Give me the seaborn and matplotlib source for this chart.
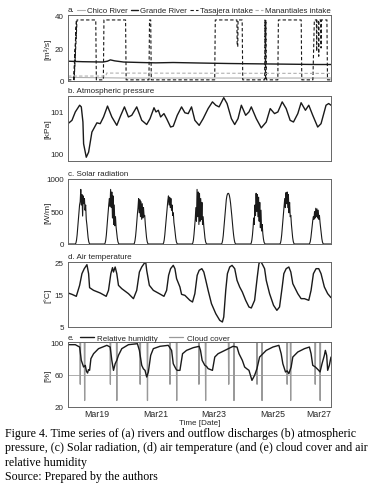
import numpy as np
import pandas as pd
import matplotlib
matplotlib.use("Agg")
import matplotlib.pyplot as plt
import seaborn as sns

# ---------------- data (time in days since Mar18 00:00) ----------------
# a. discharges [m3/s]
grande_t = [0, 0.5, 1.2, 1.35, 1.45, 1.6, 1.9, 2.5, 3.0, 3.6, 4.5, 5.5, 6.5, 7.5, 8.5, 9.0]
grande_q = [12.0, 11.7, 11.5, 12.0, 12.8, 12.2, 11.5, 11.2, 11.0, 11.2, 10.9, 10.6, 10.4, 10.2, 10.0, 10.0]
chico_t = [0, 1.0, 2.0, 9.0]
chico_q = [2.2, 2.0, 1.8, 1.8]
man_t = [0, 1.3, 1.32, 9.0]
man_q = [3.0, 3.0, 4.8, 4.6]
tas_t = [0.00, 0.19, 0.29, 0.21, 0.31, 0.95, 0.97, 1.21, 1.23, 1.97, 1.99, 2.77, 2.79, 2.83, 2.85,
         5.02, 5.04, 5.78, 5.79, 5.81, 5.82, 5.96, 5.98, 6.73, 6.74, 6.76, 6.77, 6.79, 7.18, 7.20,
         7.98, 8.00, 8.38, 8.43, 8.50, 8.51, 8.52, 8.57, 8.58, 8.59, 8.65, 8.66, 8.67, 8.86, 8.88, 9.00]
tas_q = [0.7, 0.7, 37, 0.7, 37, 37, 0.7, 0.7, 37, 37, 0.7, 0.7, 37, 37, 0.7,
         0.7, 37, 37, 21, 21, 37, 37, 0.7, 0.7, 37, 0.7, 37, 0.7, 0.7, 37,
         37, 0.7, 0.7, 37, 37, 18, 37, 37, 15, 37, 37, 20, 37, 37, 0.7, 0.7]

# b. atmospheric pressure [kPa]
pres_t = [0.00, 0.136, 0.25, 0.398, 0.455, 0.511, 0.534, 0.625, 0.705, 0.818, 0.989, 1.102, 1.216,
          1.352, 1.5, 1.67, 1.807, 1.932, 2.068, 2.182, 2.352, 2.523, 2.693, 2.807, 2.943, 3.011,
          3.091, 3.17, 3.284, 3.375, 3.511, 3.602, 3.739, 3.886, 4.0, 4.114, 4.227, 4.341, 4.489,
          4.625, 4.795, 4.943, 5.057, 5.17, 5.33, 5.443, 5.591, 5.705, 5.818, 5.932, 6.08, 6.193,
          6.273, 6.443, 6.614, 6.784, 6.92, 7.068, 7.182, 7.33, 7.466, 7.602, 7.716, 7.864, 7.977,
          8.125, 8.239, 8.375, 8.545, 8.659, 8.83, 8.92, 9.0]
pres_kpa = [100.72, 100.80, 101.00, 101.16, 101.12, 100.76, 100.24, 99.92, 100.04, 100.52, 100.74,
            100.72, 100.88, 101.14, 100.88, 100.68, 100.92, 101.12, 100.88, 100.92, 101.12, 100.80,
            100.70, 100.84, 101.10, 101.00, 101.04, 100.88, 100.96, 100.84, 100.64, 100.66, 100.92,
            101.12, 100.98, 100.96, 101.12, 100.80, 100.68, 100.84, 101.08, 101.24, 101.16, 101.12,
            101.34, 101.20, 100.84, 100.70, 100.84, 101.16, 100.92, 101.00, 101.12, 100.84, 100.62,
            100.76, 101.08, 100.96, 101.00, 101.24, 101.08, 100.80, 100.76, 100.96, 101.22, 101.04,
            101.16, 100.92, 100.64, 100.72, 101.16, 101.20, 101.16]

# c. solar radiation [W/m2], half-hourly 06:00-18:00 for each of the 9 days
sol_hours = [6.0, 6.5, 7.0, 7.5, 8.0, 8.5, 9.0, 9.5, 10.0, 10.5, 11.0, 11.5, 12.0,
             12.5, 13.0, 13.5, 14.0, 14.5, 15.0, 15.5, 16.0, 16.5, 17.0, 17.5, 18.0]
solar_day1 = [0, 15, 60, 140, 250, 370, 480, 600, 650, 840, 600, 760, 430, 740, 620, 700, 520, 600, 380, 300, 190, 100, 40, 10, 0]
solar_day2 = [0, 15, 60, 140, 250, 380, 500, 610, 700, 580, 840, 560, 800, 400, 740, 300, 600, 280, 420, 260, 180, 90, 35, 10, 0]
solar_day3 = [0, 10, 50, 120, 220, 350, 460, 560, 700, 480, 680, 420, 650, 380, 620, 400, 560, 430, 440, 300, 200, 100, 40, 10, 0]
solar_day4 = [0, 15, 60, 140, 250, 370, 490, 590, 670, 740, 600, 720, 560, 700, 520, 600, 440, 480, 330, 260, 170, 90, 35, 10, 0]
solar_day5 = [0, 15, 60, 150, 260, 380, 560, 350, 840, 420, 800, 300, 780, 350, 700, 380, 640, 300, 420, 280, 180, 90, 35, 10, 0]
solar_day6 = [0, 15, 55, 130, 240, 360, 480, 590, 680, 740, 770, 780, 775, 750, 700, 630, 540, 440, 330, 230, 140, 70, 25, 5, 0]
solar_day7 = [0, 15, 60, 140, 250, 400, 300, 600, 440, 780, 500, 760, 420, 720, 350, 640, 250, 520, 200, 300, 160, 80, 30, 10, 0]
solar_day8 = [0, 15, 60, 140, 250, 370, 490, 600, 700, 560, 790, 620, 800, 560, 760, 480, 640, 420, 440, 300, 190, 100, 40, 10, 0]
solar_day9 = [0, 10, 40, 100, 180, 270, 360, 420, 380, 500, 400, 550, 420, 540, 400, 520, 380, 440, 330, 250, 160, 80, 30, 5, 0]
solar_days = [solar_day1, solar_day2, solar_day3, solar_day4, solar_day5,
              solar_day6, solar_day7, solar_day8, solar_day9]

# d. air temperature [degC]
temp_t = [0, 0.136, 0.284, 0.398, 0.477, 0.557, 0.648, 0.705, 0.739, 0.875, 1.102, 1.307, 1.386,
          1.466, 1.523, 1.557, 1.614, 1.67, 1.727, 1.841, 2.068, 2.239, 2.352, 2.443, 2.523, 2.602,
          2.659, 2.693, 2.784, 2.92, 3.125, 3.284, 3.375, 3.443, 3.511, 3.602, 3.659, 3.716, 3.83,
          3.886, 4.0, 4.17, 4.261, 4.341, 4.42, 4.489, 4.58, 4.648, 4.716, 4.795, 4.909, 5.057,
          5.193, 5.284, 5.33, 5.398, 5.455, 5.534, 5.614, 5.705, 5.784, 5.875, 5.966, 6.08, 6.193,
          6.273, 6.386, 6.477, 6.534, 6.591, 6.67, 6.727, 6.784, 6.898, 7.034, 7.148, 7.239, 7.33,
          7.386, 7.466, 7.557, 7.625, 7.693, 7.864, 7.977, 8.091, 8.239, 8.318, 8.398, 8.489, 8.58,
          8.659, 8.773, 8.886, 9.0]
temp_c = [15.46, 15.05, 14.44, 17.82, 21.41, 22.95, 24.18, 21.41, 17.10, 16.28, 15.46, 14.44, 16.28,
          21.41, 23.26, 21.92, 23.46, 21.41, 17.82, 16.79, 15.26, 13.72, 16.28, 21.92, 23.46, 24.49,
          25.00, 22.44, 17.82, 16.28, 15.26, 14.44, 16.28, 20.90, 22.95, 23.97, 22.95, 19.87, 17.31,
          15.05, 14.74, 13.21, 12.69, 15.26, 20.90, 22.44, 22.95, 21.92, 19.36, 16.28, 12.18, 9.10,
          7.05, 6.54, 8.08, 16.28, 21.41, 23.46, 23.97, 22.95, 19.36, 17.31, 15.77, 13.21, 11.15,
          10.85, 13.21, 20.38, 24.49, 25.30, 23.97, 22.95, 19.36, 15.26, 11.67, 10.13, 11.15, 17.31,
          21.41, 22.95, 23.46, 21.92, 18.33, 15.26, 13.72, 13.72, 13.21, 16.28, 21.41, 22.95, 22.95,
          21.41, 17.31, 15.26, 14.03]

# e. relative humidity [%]
rh_t = [0, 0.25, 0.398, 0.455, 0.534, 0.591, 0.63, 0.67, 0.70, 0.739, 0.784, 0.875, 1.045, 1.33,
        1.443, 1.5, 1.557, 1.614, 1.67, 1.727, 1.841, 2.068, 2.375, 2.443, 2.523, 2.58, 2.636,
        2.693, 2.75, 2.83, 2.92, 3.148, 3.432, 3.545, 3.602, 3.659, 3.70, 3.739, 3.83, 3.92, 4.057,
        4.284, 4.489, 4.534, 4.591, 4.682, 4.74, 4.795, 4.943, 5.023, 5.136, 5.42, 5.648, 5.784,
        5.852, 5.966, 6.045, 6.12, 6.193, 6.295, 6.386, 6.466, 6.557, 6.784, 7.011, 7.216, 7.295,
        7.352, 7.443, 7.50, 7.557, 7.636, 7.693, 7.864, 8.091, 8.261, 8.318, 8.375, 8.466, 8.58,
        8.625, 8.693, 8.773, 8.807, 8.852, 8.886, 8.943, 9.0]
rh_pct = [96.7, 96.7, 93.8, 77.4, 69.2, 71.3, 64.0, 61.8, 66.0, 65.1, 79.5, 85.6, 91.8, 95.9,
          93.8, 77.4, 65.1, 73.3, 77.4, 83.6, 91.8, 96.7, 97.9, 89.7, 71.3, 67.0, 65.1,
          56.9, 63.1, 83.6, 91.8, 94.7, 95.9, 89.7, 73.3, 69.2, 66.5, 65.1, 65.1, 85.6, 89.7,
          93.0, 94.7, 89.7, 77.4, 71.3, 70.0, 67.2, 65.1, 81.5, 85.6, 90.6, 94.7, 93.8,
          85.6, 77.4, 69.2, 67.0, 65.1, 52.8, 59.0, 67.2, 81.5, 89.7, 93.8, 95.9, 85.6,
          73.3, 63.1, 64.5, 61.0, 69.2, 81.5, 87.7, 91.8, 93.8, 85.6, 71.3, 69.2, 65.1,
          63.1, 73.3, 83.6, 89.7, 83.6, 65.1, 71.3, 81.5]
# cloud cover [%]: stays at 100 except short drops
cloud_drop_t = [0.42, 0.57, 1.45, 1.67, 2.47, 2.72, 3.49, 3.72, 4.48, 4.71,
                5.50, 5.68, 6.47, 6.64, 7.50, 7.62, 8.46, 8.63]
cloud_drop_v = [48, 28, 48, 28, 48, 28, 48, 28, 48, 28,
                48, 28, 48, 28, 48, 28, 48, 28]
cloud_base = 100

date_ticks = [1, 2, 3, 4, 5, 6, 7, 8, 9]
date_labels = ["Mar19", "", "Mar21", "", "Mar23", "", "Mar25", "", "Mar27"]

caption = ["Figure 4. Time series of (a) rivers and outflow discharges (b) atmospheric",
           "pressure, (c) Solar radiation, (d) air temperature (and (e) cloud cover and air",
           "relative humidity",
           "Source: Prepared by the authors"]

# ---------------- build frames ----------------
sol_t, sol_v = [0.0], [0.0]
for d, vals in enumerate(solar_days):
    for h, v in zip(sol_hours, vals):
        sol_t.append(d + h / 24.0)
        sol_v.append(v)
sol_t.append(9.0)
sol_v.append(0.0)

cl_t, cl_v = [0.0], [cloud_base]
for t, v in zip(cloud_drop_t, cloud_drop_v):
    cl_t += [t - 0.012, t, t + 0.012]
    cl_v += [cloud_base, v, cloud_base]
cl_t.append(9.0)
cl_v.append(cloud_base)

# ---------------- figure ----------------
sns.set_theme(style="white")
plt.rcParams["font.family"] = ["Liberation Sans", "DejaVu Sans"]
FS = 5.8
W, H = 379, 485
fig = plt.figure(figsize=(W / 100, H / 100), dpi=100)

def add_ax(top, bottom):
    return fig.add_axes([68 / W, 1 - bottom / H, 263 / W, (bottom - top) / H])

axa = add_ax(16, 82)
axb = add_ax(97, 162)
axc = add_ax(180, 245)
axd = add_ax(263, 328)
axe = add_ax(343, 408)
axes = [axa, axb, axc, axd, axe]

BLACK = "#1a1a1a"
LGRAY = "#b0b0b0"

def line(ax, t, v, **kw):
    df = pd.DataFrame({"t": t, "v": v})
    sns.lineplot(data=df, x="t", y="v", ax=ax, estimator=None, sort=False, **kw)

# a
line(axa, chico_t, chico_q, color=LGRAY, lw=0.8, label="Chico River")
line(axa, grande_t, grande_q, color=BLACK, lw=1.0, label="Grande River")
line(axa, tas_t, tas_q, color=BLACK, lw=0.8, linestyle=(0, (3, 2)), label="Tasajera intake")
line(axa, man_t, man_q, color=LGRAY, lw=0.8, linestyle=(0, (3, 2)), label="Manantiales intake")
axa.set_ylim(0, 40)
axa.set_yticks([0, 20, 40])
axa.set_ylabel("[m³/s]")
axa.legend(loc="lower left", bbox_to_anchor=(0.035, 1.01), ncol=4, frameon=False,
           fontsize=5.65, handlelength=1.0, handletextpad=0.25, columnspacing=0.35,
           borderpad=0, borderaxespad=0)
axa.text(0, 1.03, "a.", transform=axa.transAxes, fontsize=FS, va="bottom", ha="left")

# b
line(axb, pres_t, pres_kpa, color=BLACK, lw=1.0)
axb.set_ylim(99.83, 101.38)
axb.set_yticks([100, 101])
axb.set_ylabel("[kPa]")
axb.text(0, 1.03, "b. Atmospheric pressure", transform=axb.transAxes, fontsize=FS, va="bottom")

# c
line(axc, sol_t, sol_v, color=BLACK, lw=0.8)
axc.set_ylim(0, 1000)
axc.set_yticks([0, 500, 1000])
axc.set_ylabel("[W/m]")
axc.text(0, 1.03, "c. Solar radiation", transform=axc.transAxes, fontsize=FS, va="bottom")

# d
line(axd, temp_t, temp_c, color=BLACK, lw=1.0)
axd.set_ylim(5, 25)
axd.set_yticks([5, 15, 25])
axd.set_ylabel("[°C]")
axd.text(0, 1.03, "d. Air temperature", transform=axd.transAxes, fontsize=FS, va="bottom")

# e
axe.axhline(60, color="#a0a0a0", lw=0.6, zorder=1)
line(axe, cl_t, cl_v, color="#999999", lw=0.9, label="Cloud cover")
line(axe, rh_t, rh_pct, color=BLACK, lw=1.0, label="Relative humidity")
axe.set_ylim(20, 100)
axe.set_yticks([20, 60, 100])
axe.set_ylabel("[%]")
h, l = axe.get_legend_handles_labels()
axe.legend([h[1], h[0]], [l[1], l[0]], loc="lower left", bbox_to_anchor=(0.045, 1.0), ncol=2,
           frameon=False, fontsize=FS, handlelength=1.7, handletextpad=0.45, columnspacing=1.4,
           borderpad=0, borderaxespad=0)
axe.text(0, 1.02, "e.", transform=axe.transAxes, fontsize=FS, va="bottom", ha="left")

for ax in axes:
    ax.set_xlim(0, 9)
    ax.set_xticks(date_ticks)
    ax.set_xticklabels([])
    ax.set_xlabel("")
    ax.yaxis.set_label_coords(-0.062, 0.5)
    ax.yaxis.label.set_fontsize(FS + 0.3)
    ax.tick_params(axis="x", direction="in", length=2.5, width=0.6, color="#555555")
    ax.tick_params(axis="y", direction="out", length=2, width=0.6, color="#555555",
                   labelsize=FS, pad=1)
    for s in ax.spines.values():
        s.set_color("#666666")
        s.set_linewidth(0.7)
    ax.patch.set_alpha(0)

axe.set_xticklabels(date_labels, fontsize=FS + 0.5)
axe.tick_params(axis="x", pad=1.5)
lbls = axe.get_xticklabels()
lbls[-1].set_ha("right")
axe.set_xlabel("Time [Date]", fontsize=FS, labelpad=0.5)

ys = [434, 448.5, 463, 477]
for txt, y in zip(caption, ys):
    fig.text(5 / W, 1 - y / H, txt, fontsize=8.6, family="Liberation Serif",
             va="center", ha="left", color="black")

fig.savefig("out.png", dpi=100)
